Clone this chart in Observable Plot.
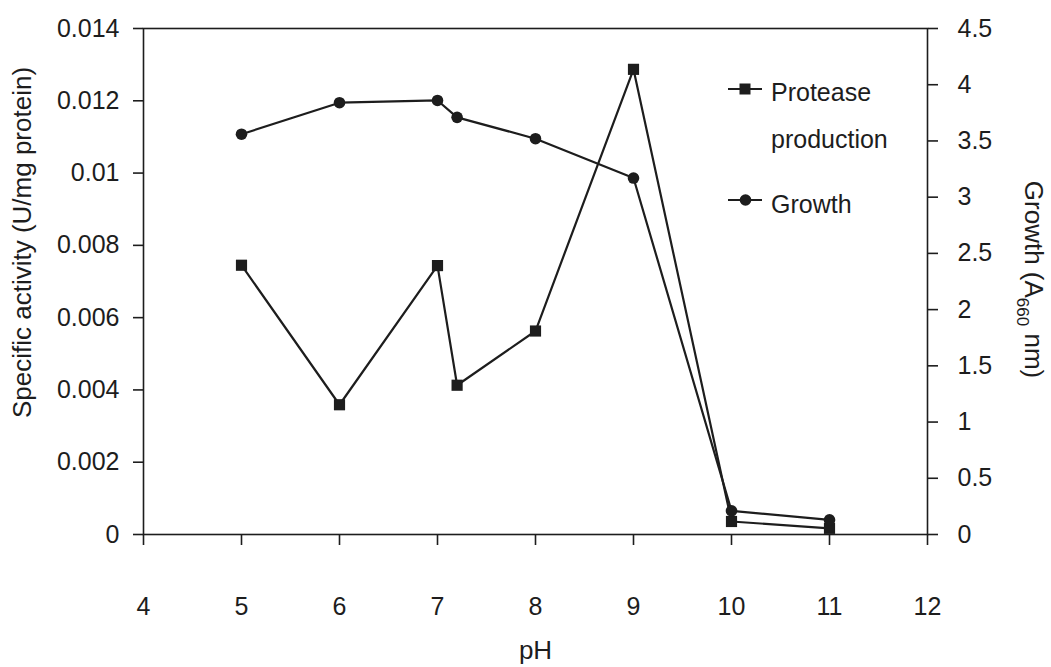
<!DOCTYPE html>
<html>
<head>
<meta charset="utf-8">
<script src="https://cdn.jsdelivr.net/npm/d3@7"></script>
<script src="https://cdn.jsdelivr.net/npm/@observablehq/plot@0.6"></script>
<style>
  html, body { margin: 0; padding: 0; background: #fff; }
  #chart svg { display: block; }
</style>
</head>
<body>
<div id="chart"></div>
<script>
// ---- data ----
const pH = [5, 6, 7, 7.2, 8, 9, 10, 11];
const protease = [0.00745, 0.00359, 0.00744, 0.00413, 0.00563, 0.01287, 0.00036, 0.00017];
const growth = [3.56, 3.84, 3.86, 3.71, 3.52, 3.17, 0.21, 0.13];

const xTicks = [4, 5, 6, 7, 8, 9, 10, 11, 12];
const leftTicks = [0, 0.002, 0.004, 0.006, 0.008, 0.01, 0.012, 0.014];
const rightTicks = [0, 0.5, 1, 1.5, 2, 2.5, 3, 3.5, 4, 4.5];
const leftMax = 0.014;
const rightMax = 4.5;

const seriesNames = ["Protease", "production", "Growth"];
const xTitle = "pH";
const yTitle = "Specific activity (U/mg protein)";
const y2Title = ["Growth (A", "660", " nm)"];

// ---- build ----
const k = leftMax / rightMax; // maps growth onto the left scale
const proteaseRows = pH.map((p, i) => ({pH: p, v: protease[i]}));
const growthRows = pH.map((p, i) => ({pH: p, v: growth[i] * k}));

const ink = "#1d1d1d";
const font = "'Liberation Sans', Arial, Helvetica, sans-serif";

const chart = Plot.plot({
  width: 1051,
  height: 667,
  marginLeft: 143,
  marginRight: 124,
  marginTop: 28,
  marginBottom: 133,
  style: {fontFamily: font, fontSize: "25px", color: ink, background: "#fff", overflow: "visible"},
  x: {domain: [4, 12]},
  y: {domain: [0, leftMax]},
  marks: [
    Plot.frame({stroke: ink, strokeWidth: 1.6}),
    Plot.axisX(xTicks, {anchor: "bottom", tickSize: 11, tickPadding: 52, tickFormat: d => String(d), label: null, strokeWidth: 1.6, fontSize: 25}),
    Plot.axisY(leftTicks, {anchor: "left", tickSize: 10, tickPadding: 14, tickFormat: d => String(d), label: null, strokeWidth: 1.6, fontSize: 25}),
    Plot.axisY(rightTicks.map(g => g * k), {anchor: "right", tickSize: 10, tickPadding: 20, tickFormat: d => String(+(d / k).toFixed(2)), label: null, strokeWidth: 1.6, fontSize: 25}),
    Plot.line(proteaseRows, {x: "pH", y: "v", stroke: ink, strokeWidth: 2.2}),
    Plot.dot(proteaseRows, {x: "pH", y: "v", symbol: "square", r: 6.3, fill: ink, stroke: "none"}),
    Plot.line(growthRows, {x: "pH", y: "v", stroke: ink, strokeWidth: 2.2}),
    Plot.dot(growthRows, {x: "pH", y: "v", symbol: "circle", r: 5.8, fill: ink, stroke: "none"}),
    Plot.text([yTitle], {frameAnchor: "left", textAnchor: "middle", dx: -121, dy: -39, rotate: -90, fontSize: 26, fill: ink}),
    Plot.text([y2Title.join("")], {frameAnchor: "right", textAnchor: "middle", dx: 106, dy: -2, rotate: 90, fontSize: 26, fill: ink}),
    Plot.text([xTitle], {frameAnchor: "bottom", dy: 124, fontSize: 26, fill: ink})
  ]
});

document.getElementById("chart").appendChild(chart);

// subscript in the right axis title
const svg = d3.select(chart);
svg.selectAll("text").filter(function () { return this.textContent === y2Title.join(""); })
  .each(function () {
    const t = d3.select(this);
    t.text(null);
    t.append("tspan").text(y2Title[0]);
    t.append("tspan").attr("font-size", 17).attr("dy", 8).text(y2Title[1]);
    t.append("tspan").attr("dy", -8).text(y2Title[2]);
  });

// legend
const lg = svg.append("g").attr("fill", ink).attr("font-family", font).attr("font-size", 25).attr("text-anchor", "start");
lg.append("line").attr("x1", 728).attr("x2", 762).attr("y1", 89).attr("y2", 89).attr("stroke", ink).attr("stroke-width", 2);
lg.append("rect").attr("x", 739.5).attr("y", 83.5).attr("width", 11).attr("height", 11);
lg.append("text").attr("x", 771).attr("y", 101).text(seriesNames[0]);
lg.append("text").attr("x", 771).attr("y", 148).text(seriesNames[1]);
lg.append("line").attr("x1", 728).attr("x2", 762).attr("y1", 200).attr("y2", 200).attr("stroke", ink).attr("stroke-width", 2);
lg.append("circle").attr("cx", 745.5).attr("cy", 200).attr("r", 5.8);
lg.append("text").attr("x", 771).attr("y", 213).text(seriesNames[2]);
</script>
</body>
</html>
